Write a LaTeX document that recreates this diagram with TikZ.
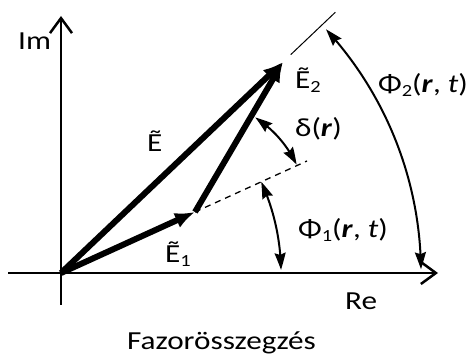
\documentclass[tikz,border=0pt]{standalone}
\usepackage{graphicx}
\usepackage{fontspec}
\setmainfont{Carlito}
\usetikzlibrary{arrows.meta,bending,calc}
\newcommand{\lowsub}[1]{\raisebox{-0.12em}{\fontsize{17}{17}\selectfont #1}}
\newcommand{\wide}[1]{\scalebox{1.2}[1]{#1}}
\begin{document}
\begin{tikzpicture}[x=1pt,y=1pt,
  lbl/.style={font=\fontsize{26}{30}\selectfont, inner sep=0pt, anchor=base west},
  axis/.style={line width=2.5pt, -{Straight Barb[length=15pt,width=22pt,line width=2.5pt]}},
  vec/.style={line width=6pt, -{Latex[length=20pt,width=16pt]}},
  ang/.style={line width=2pt, {Stealth[length=17pt,width=11pt,inset=2pt,bend]}-{Stealth[length=17pt,width=11pt,inset=2pt,bend]}},
  dashline/.style={line width=1.3pt, dash pattern=on 6pt off 5pt},
  thinline/.style={line width=1pt}
]
\useasboundingbox (0,0) rectangle (470,358);
% coordinates
\coordinate (O) at (61,85);
\coordinate (xl) at (8,85);
\coordinate (xr) at (438,85);
\coordinate (yb) at (61,53);
\coordinate (yt) at (61,342);
\coordinate (E1) at (195,146);
\coordinate (E2) at (283,296);
\coordinate (D) at (307,197);
% axes
\draw[axis] (xl) -- (xr);
\draw[axis] (yb) -- (yt);
% dashed extension and thin line
\draw[dashline] (E1) -- (D);
\draw[thinline] ($(O)!1.035!(E2)$) -- ($(O)!1.236!(E2)$);
% vectors
\draw[vec] (O) -- (E1);
\draw[vec] (O) -- (E2);
\draw[vec] (E1) -- (E2);
% angle arcs
\draw[ang] ($(O)+(0.8:220)$) arc[start angle=0.8, end angle=24.5, radius=220];
\draw[ang] ($(O)+(0.6:360)$) arc[start angle=0.6, end angle=42.6, radius=360];
\draw[ang] ($(E1)+(25:112)$) arc[start angle=25, end angle=57.5, radius=112];
% labels
\node[lbl] (im) at (18,308) {\wide{Im}};
\node[lbl] (re) at (345,48) {\wide{Re}};
\node[lbl] (le) at (147,206) {\wide{Ẽ}};
\node[lbl] (le2) at (295,269) {\wide{Ẽ\lowsub{2}}};
\node[lbl] (le1) at (165,95) {\wide{Ẽ\lowsub{1}}};
\node[lbl] (ld) at (295,221) {\wide{δ(\textbf{\textit{r}})}};
\node[lbl] (lp2) at (378,265) {\wide{Φ\lowsub{2}(\textbf{\textit{r}}, \textit{t})}};
\node[lbl] (lp1) at (298,120) {\wide{Φ\lowsub{1}(\textbf{\textit{r}}, \textit{t})}};
\node[lbl] (cap) at (127,9) {\wide{Fazorösszegzés}};
\end{tikzpicture}
\end{document}
